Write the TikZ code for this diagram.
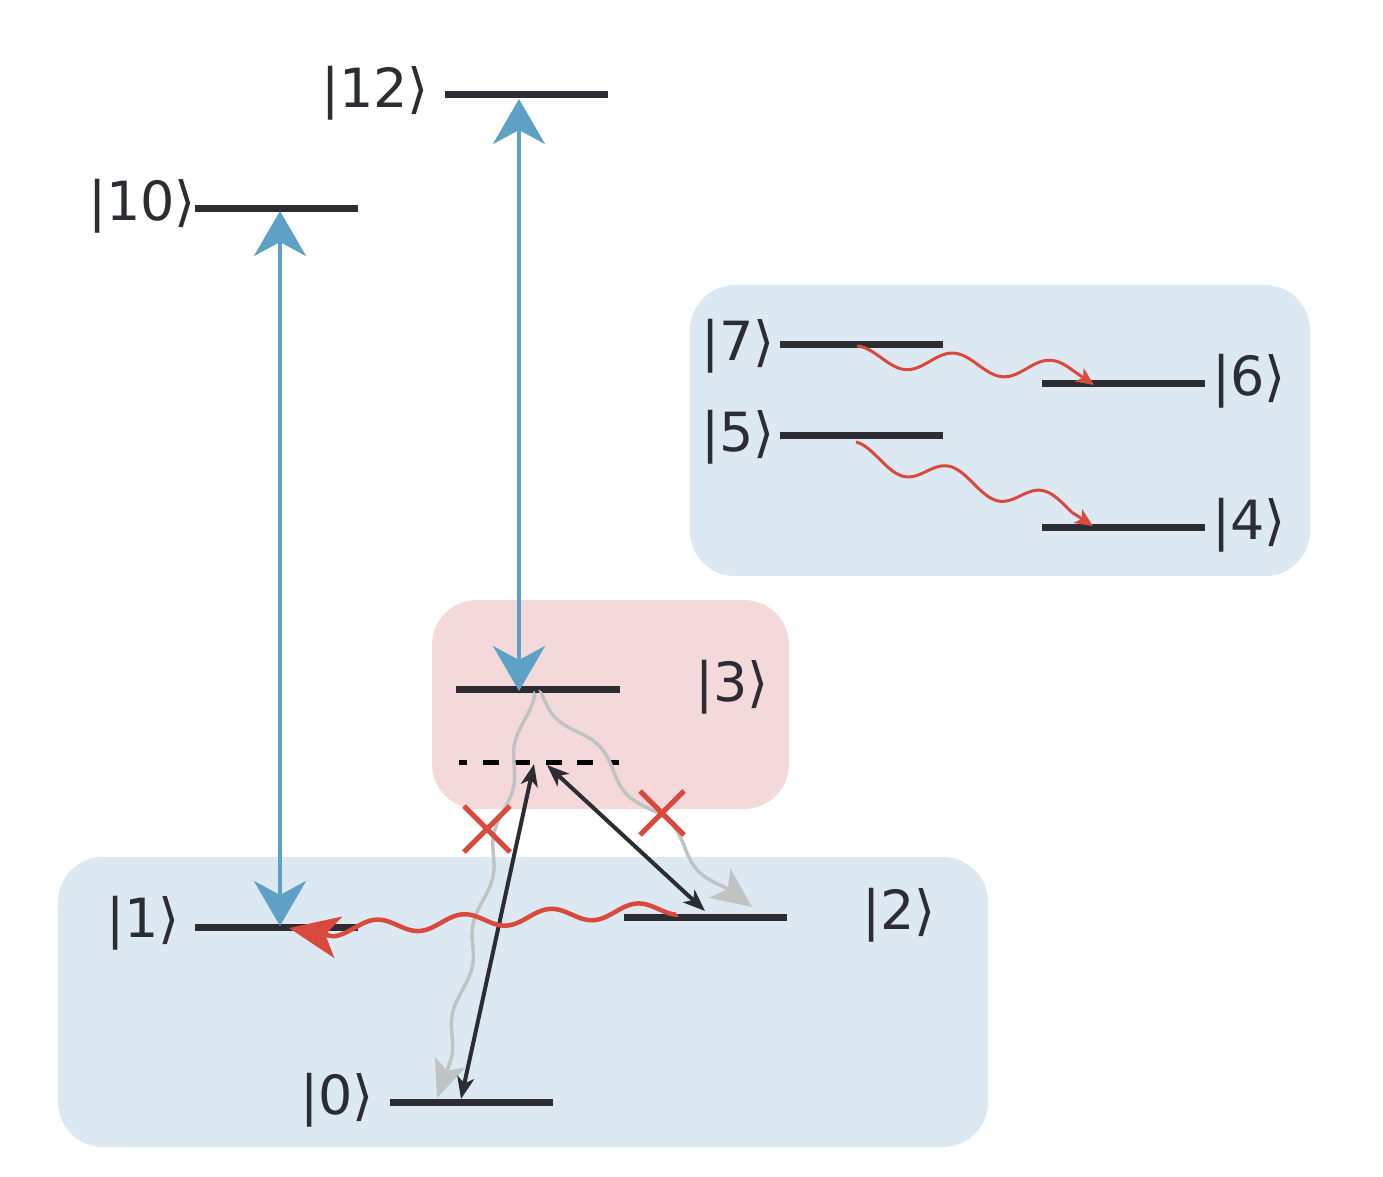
\documentclass[tikz,border=0pt]{standalone}
\usepackage{fontspec}
\setmainfont{DejaVu Sans}
\usetikzlibrary{arrows.meta,calc}
\definecolor{levelc}{HTML}{2B2D33}
\definecolor{bluec}{HTML}{5DA2C6}
\definecolor{redc}{HTML}{D94A3C}
\definecolor{grayc}{HTML}{C0C3C3}
\definecolor{boxblue}{HTML}{DCE9F3}
\definecolor{boxpink}{HTML}{F4D9DA}
\tikzset{
  lvl/.style={draw=levelc, line width=7pt},
  ket/.style={text=levelc, font=\fontsize{54}{60}\selectfont, inner sep=0pt},
  bluearr/.style={draw=bluec, line width=4.5pt, {Stealth[length=45pt,width=52pt,inset=14pt]}-{Stealth[length=45pt,width=52pt,inset=14pt]}},
  blackarr/.style={draw=levelc, line width=4pt, {Stealth[length=22pt,width=17pt,inset=6pt]}-{Stealth[length=22pt,width=17pt,inset=6pt]}},
  crossl/.style={draw=redc, line width=5pt},
  box/.style={rounded corners=45pt},
  grayw/.style={draw=grayc, line width=3.5pt},
  redw/.style={draw=redc, line width=4.5pt},
  redws/.style={draw=redc, line width=3pt},
}
\begin{document}
\begin{tikzpicture}[x=1pt,y=-1pt]
\useasboundingbox (0,0) rectangle (1383,1177);
\fill[white] (0,0) rectangle (1383,1177);
% boxes
\fill[boxblue,box] (690,285) rectangle (1310,576);
\fill[boxpink,box] (432,600) rectangle (789,809);
\fill[boxblue,box] (58,857) rectangle (988,1147);
% level coordinates
\coordinate (L12a) at (445,95);  \coordinate (L12b) at (608,95);
\coordinate (L10a) at (195,208); \coordinate (L10b) at (358,208);
\coordinate (L7a) at (780,344);  \coordinate (L7b) at (943,344);
\coordinate (L5a) at (780,435);  \coordinate (L5b) at (943,435);
\coordinate (L6a) at (1042,383); \coordinate (L6b) at (1205,383);
\coordinate (L4a) at (1042,527); \coordinate (L4b) at (1205,527);
\coordinate (L3a) at (456,689);  \coordinate (L3b) at (620,689);
\coordinate (Va) at (459,762);   \coordinate (Vb) at (619,762);
\coordinate (L2a) at (624,917);  \coordinate (L2b) at (787,917);
\coordinate (L1a) at (195,927);  \coordinate (L1b) at (358,927);
\coordinate (L0a) at (390,1102); \coordinate (L0b) at (553,1102);
% levels
\foreach \n in {12,10,7,5,6,4,3,2,1,0} {\draw[lvl] (L\n a) -- (L\n b);}
\draw[black, line width=5pt, dash pattern=on 16pt off 15.6pt, dash phase=8pt] (Va) -- (Vb);
% labels
\node[ket] (k12) at (375,93) {|12⟩};
\node[ket] (k10) at (142,206) {|10⟩};
\node[ket] (k7) at (738,346) {|7⟩};
\node[ket] (k5) at (738,437) {|5⟩};
\node[ket] (k6) at (1249,381) {|6⟩};
\node[ket] (k4) at (1249,525) {|4⟩};
\node[ket] (k3) at (732,687) {|3⟩};
\node[ket] (k2) at (899,915) {|2⟩};
\node[ket] (k1) at (143,923) {|1⟩};
\node[ket] (k0) at (337,1100) {|0⟩};
% gray decay waves (|3> -> |0>, |3> -> |2>)
\coordinate (g1s) at (535,693); \coordinate (g1m) at (449,1065); \coordinate (g1e) at (437,1098);
\draw[grayw] (g1s) -- plot[domain=693:1065, samples=150]
  ({530.7-0.23*(\x-693)-4.5*sin(4*(\x-720))}, \x);
\draw[grayw, -{Stealth[length=38pt,width=32pt,inset=9pt]}] (g1m) -- (g1e);
\coordinate (g2s) at (541.8,693.6); \coordinate (g2m) at (727.1,888.6); \coordinate (g2e) at (752,907);
\draw[grayw] (g2s) -- plot[domain=-63.6:206, samples=150]
  ({585+0.68*\x-4.745*sin(3.4286*(\x+63.6))}, {740+0.73*\x+4.42*sin(3.4286*(\x+63.6))});
\draw[grayw, -{Stealth[length=40pt,width=36pt,inset=10pt]}] (g2m) -- (g2e);
% blue arrows
\coordinate (b1a) at (280,926); \coordinate (b1b) at (280,211);
\coordinate (b2a) at (519,691); \coordinate (b2b) at (519,99);
\draw[bluearr] (b1a) -- (b1b);
\draw[bluearr] (b2a) -- (b2b);
% black arrows
\coordinate (k0t) at (461,1099); \coordinate (vt1) at (534,764);
\coordinate (vt2) at (547,765);  \coordinate (k2t) at (705,911);
\draw[blackarr] (k0t) -- (vt1);
\draw[blackarr] (vt2) -- (k2t);
% crosses
\coordinate (c1) at (487,829); \coordinate (c2) at (662,813);
\draw[crossl] ($(c1)+(-23,-23)$) -- ($(c1)+(23,23)$) ($(c1)+(-23,23)$) -- ($(c1)+(23,-23)$);
\draw[crossl] ($(c2)+(-22,-22)$) -- ($(c2)+(22,22)$) ($(c2)+(-22,22)$) -- ($(c2)+(22,-22)$);
% red wave |2> -> |1>
\coordinate (r1s) at (676,914.7); \coordinate (r1m) at (333,936.3); \coordinate (r1e) at (289,928);
\draw[redw] (r1s) -- plot[domain=676:333, samples=150]
  (\x, {910.5+0.062*(637-\x)-7*cos(4.1379*(637-\x))});
\draw[redw, -{Stealth[length=50pt,width=42pt,inset=13pt]}] (r1m) -- (r1e);
% red wave |7> -> |6>
\coordinate (r7s) at (857,346); \coordinate (r7m) at (1080,375.4); \coordinate (r6e) at (1094,385);
\draw[redws] (r7s) -- plot[domain=857:1080, samples=120]
  (\x, {356+0.0737*(\x-857)-10*cos(3.7113*(\x-857))});
\draw[redws, -{Stealth[length=18pt,width=16pt,inset=5pt]}] (r7m) -- (r6e);
% red wave |5> -> |4>
\coordinate (r5s) at (856,442); \coordinate (r5m) at (1072,512.4); \coordinate (r4e) at (1093,526);
\draw[redws] (r5s) -- plot[domain=856:1072, samples=120]
  (\x, {453+0.26*(\x-856)-11*cos(3.8298*(\x-856))});
\draw[redws, -{Stealth[length=18pt,width=16pt,inset=5pt]}] (r5m) -- (r4e);
\end{tikzpicture}
\end{document}
